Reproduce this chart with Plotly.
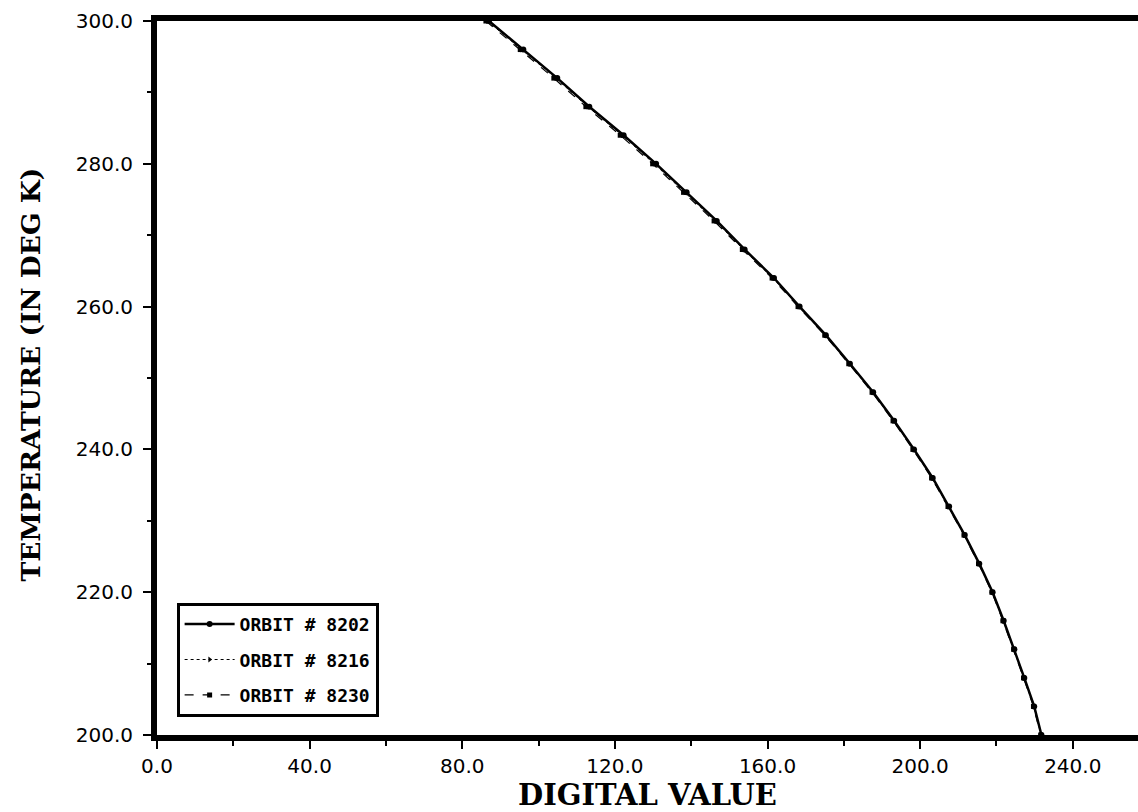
import plotly.graph_objects as go

# Temperatures (K) at which calibration points are plotted
temp_k = [300, 296, 292, 288, 284, 280, 276, 272, 268, 264, 260, 256, 252,
          248, 244, 240, 236, 232, 228, 224, 220, 216, 212, 208, 204, 200]

# Digital values for each orbit
orbit_8202 = [87.0, 96.0, 104.9, 113.3, 122.3, 130.8, 138.8, 146.7, 154.0, 161.7,
              168.4, 175.3, 181.6, 187.7, 193.2, 198.4, 203.3, 207.6, 211.7, 215.5,
              219.0, 221.9, 224.7, 227.3, 229.9, 231.8]
orbit_8216 = [86.6, 95.6, 104.5, 112.9, 121.9, 130.3, 138.4, 146.3, 153.7, 161.4,
              168.2, 175.1, 181.4, 187.5, 193.0, 198.2, 203.1, 207.4, 211.6, 215.4,
              218.9, 221.8, 224.6, 227.2, 229.8, 231.7]
orbit_8230 = [86.2, 95.2, 104.0, 112.4, 121.4, 129.9, 138.0, 146.0, 153.4, 161.2,
              168.0, 175.0, 181.3, 187.4, 192.9, 198.1, 203.0, 207.3, 211.5, 215.3,
              218.8, 221.7, 224.5, 227.1, 229.7, 231.6]

series_names = ["ORBIT # 8202", "ORBIT # 8216", "ORBIT # 8230"]

x_ticks = [0, 40, 80, 120, 160, 200, 240]
x_tick_text = ["0.0", "40.0", "80.0", "120.0", "160.0", "200.0", "240.0"]
y_ticks = [200, 220, 240, 260, 280, 300]
y_tick_text = ["200.0", "220.0", "240.0", "260.0", "280.0", "300.0"]

fig = go.Figure()

fig.add_trace(go.Scatter(
    x=orbit_8202, y=temp_k, name=series_names[0], mode="lines+markers",
    line=dict(color="black", width=2.5),
    marker=dict(symbol="circle", size=6, color="black"),
    legendgroup="a", legendrank=1,
))
fig.add_trace(go.Scatter(
    x=orbit_8216, y=temp_k, name=series_names[1], mode="lines+markers",
    line=dict(color="black", width=1, dash="dot"),
    marker=dict(symbol="triangle-right", size=5, color="black"),
    legendgroup="b", legendrank=2,
))
fig.add_trace(go.Scatter(
    x=orbit_8230, y=temp_k, name=series_names[2], mode="lines+markers",
    line=dict(color="black", width=1.2, dash="dash"),
    marker=dict(symbol="square", size=5, color="black"),
    legendgroup="c", legendrank=3,
))

tick_font = dict(family="DejaVu Sans", size=20, color="black")

fig.update_layout(
    width=1138, height=812,
    margin=dict(l=157, r=0, t=21, b=77),
    paper_bgcolor="white", plot_bgcolor="white",
    showlegend=True,
    legend=dict(
        x=0.02, y=0.185, xanchor="left", yanchor="top",
        bgcolor="white", bordercolor="black", borderwidth=3,
        font=dict(family="DejaVu Sans Mono", size=18, color="black", weight="bold"),
        tracegroupgap=9, traceorder="grouped", itemwidth=50,
    ),
    xaxis=dict(
        range=[0, 257.1], showgrid=False, zeroline=False, automargin=False,
        showline=True, linecolor="black", linewidth=6, mirror=True,
        ticks="outside", ticklen=8, tickwidth=2, tickcolor="black",
        tickvals=x_ticks, ticktext=x_tick_text, tickfont=tick_font,
        minor=dict(dtick=20, tick0=0, ticks="outside", ticklen=5, tickwidth=2,
                   tickcolor="black", showgrid=False),
        title=dict(text="DIGITAL VALUE",
                   font=dict(family="DejaVu Serif", size=29, color="black", weight="bold"),
                   standoff=4),
    ),
    yaxis=dict(
        range=[200, 300], showgrid=False, zeroline=False, automargin=False,
        showline=True, linecolor="black", linewidth=6, mirror=False,
        ticks="outside", ticklen=8, tickwidth=2, tickcolor="black",
        tickvals=y_ticks, ticktext=y_tick_text, tickfont=tick_font,
        ticklabelstandoff=6,
        minor=dict(dtick=10, tick0=200, ticks="outside", ticklen=4, tickwidth=2,
                   tickcolor="black", showgrid=False),
    ),
    annotations=[dict(
        text="TEMPERATURE (IN DEG K)", textangle=-90,
        xref="paper", yref="paper", x=-0.1295, y=0.505,
        xanchor="center", yanchor="middle", showarrow=False,
        font=dict(family="DejaVu Serif", size=26.5, color="black", weight="bold"),
    )],
)

fig.write_html("out.html", config={"displayModeBar": False},
               post_script="document.body.style.margin='0px';")
